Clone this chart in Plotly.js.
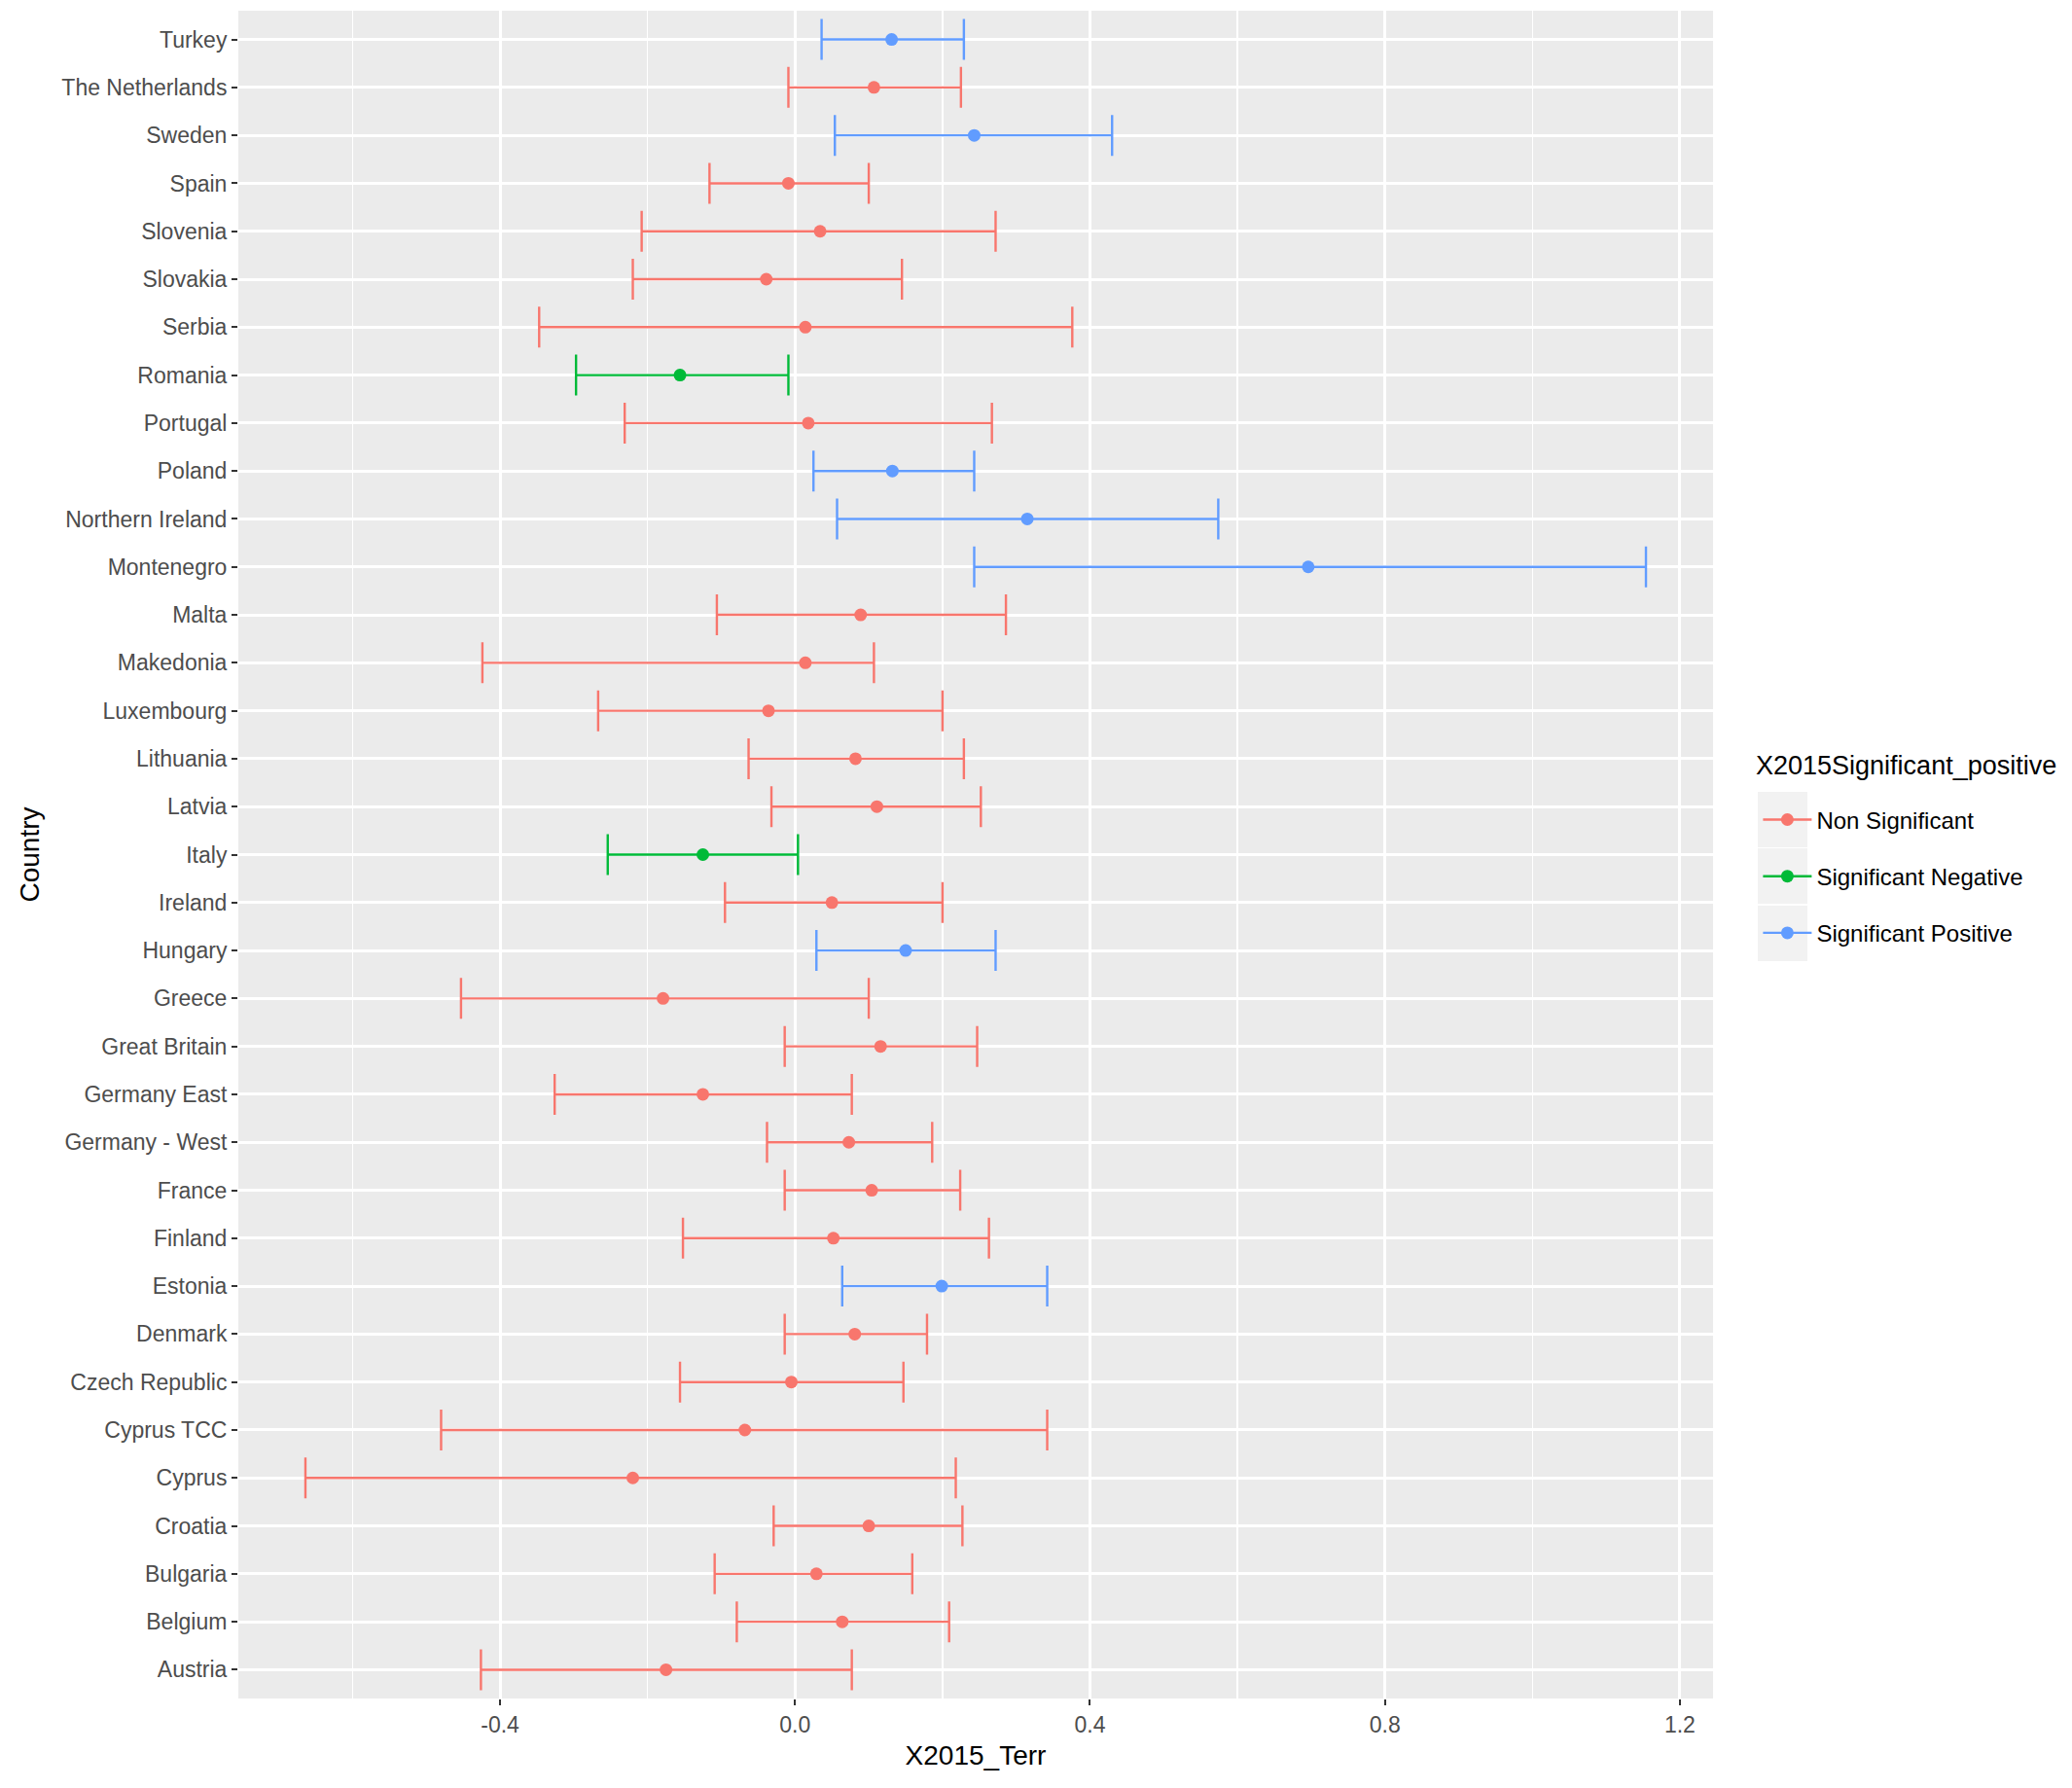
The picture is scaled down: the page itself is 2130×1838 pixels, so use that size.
<!DOCTYPE html>
<html>
<head>
<meta charset="utf-8">
<script src="https://cdn.plot.ly/plotly-3.0.1.min.js"></script>
<style>
  html, body { margin: 0; padding: 0; background: #fff; }
  #chart { width: 2130px; height: 1838px; }
</style>
</head>
<body>
<div id="chart"></div>
<script>
// bottom to top, as the y axis reads
const countries = ['Austria', 'Belgium', 'Bulgaria', 'Croatia', 'Cyprus', 'Cyprus TCC',
  'Czech Republic', 'Denmark', 'Estonia', 'Finland', 'France', 'Germany - West',
  'Germany East', 'Great Britain', 'Greece', 'Hungary', 'Ireland', 'Italy', 'Latvia',
  'Lithuania', 'Luxembourg', 'Makedonia', 'Malta', 'Montenegro', 'Northern Ireland',
  'Poland', 'Portugal', 'Romania', 'Serbia', 'Slovakia', 'Slovenia', 'Spain', 'Sweden',
  'The Netherlands', 'Turkey']

const estimate = [-0.175, 0.064, 0.029, 0.100, -0.220, -0.068, -0.005, 0.081, 0.199, 0.052,
  0.104, 0.073, -0.125, 0.116, -0.179, 0.150, 0.050, -0.125, 0.111, 0.082, -0.036, 0.014,
  0.089, 0.696, 0.315, 0.132, 0.018, -0.156, 0.014, -0.039, 0.034, -0.009, 0.243, 0.107, 0.131]

const lower = [-0.426, -0.079, -0.109, -0.029, -0.664, -0.480, -0.156, -0.014, 0.064, -0.152,
  -0.014, -0.038, -0.326, -0.014, -0.453, 0.029, -0.095, -0.254, -0.032, -0.063, -0.267, -0.424,
  -0.106, 0.243, 0.057, 0.025, -0.231, -0.297, -0.347, -0.220, -0.208, -0.116, 0.054, -0.009, 0.036]

const upper = [0.077, 0.209, 0.159, 0.227, 0.218, 0.342, 0.147, 0.179, 0.342, 0.263,
  0.224, 0.186, 0.077, 0.247, 0.100, 0.272, 0.200, 0.004, 0.252, 0.229, 0.200, 0.107,
  0.286, 1.154, 0.574, 0.243, 0.267, -0.009, 0.376, 0.145, 0.272, 0.100, 0.430, 0.225, 0.229]

const NS = 'Non Significant', NEG = 'Significant Negative', POS = 'Significant Positive'
const significance = [NS, NS, NS, NS, NS, NS, NS, NS, POS, NS, NS, NS, NS, NS, NS, POS, NS, NEG,
  NS, NS, NS, NS, NS, POS, POS, POS, NS, NEG, NS, NS, NS, NS, POS, NS, POS]

const groups = [NS, NEG, POS]
const groupColors = { [NS]: '#F8766D', [NEG]: '#00BA38', [POS]: '#619CFF' }

const xTicks = [-0.4, 0.0, 0.4, 0.8, 1.2]
const xTickText = ['-0.4', '0.0', '0.4', '0.8', '1.2']
const xMinor = [-0.6, -0.2, 0.2, 0.6, 1.0]

const legendTitle = 'X2015Significant_positive'

const traces = []
groups.forEach((g, gi) => {
  let idx = significance.map((s, i) => s === g ? i : -1).filter(i => i >= 0)
  traces.push({
    type: 'scatter',
    mode: 'markers',
    name: g,
    showlegend: false,
    x: idx.map(i => estimate[i]),
    y: idx.map(i => countries[i]),
    marker: { color: groupColors[g], size: 13 },
    error_x: {
      type: 'data',
      symmetric: false,
      array: idx.map(i => upper[i] - estimate[i]),
      arrayminus: idx.map(i => estimate[i] - lower[i]),
      color: groupColors[g],
      thickness: 2.4,
      width: 21
    },
    hoverinfo: 'x+y'
  })
  // legend key only
  traces.push({
    type: 'scatter',
    mode: 'lines+markers',
    name: g,
    legendgroup: 'g' + gi,
    x: [null],
    y: [null],
    line: { color: groupColors[g], width: 2.4 },
    marker: { color: groupColors[g], size: 13 }
  })
})

const font = 'Liberation Sans, Arial, sans-serif'

// grey key boxes behind the legend symbols (paper coords)
const keyBoxes = [[0.5372, 0.5043], [0.5037, 0.4709], [0.4697, 0.4369]]
const shapes = keyBoxes.map(b => ({
  type: 'rect', xref: 'paper', yref: 'paper',
  x0: 1.0303, x1: 1.064, y0: b[1], y1: b[0],
  fillcolor: '#F2F2F2', line: { width: 0 }, layer: 'below'
}))

const layout = {
  width: 2130,
  height: 1838,
  margin: { l: 245, r: 369, t: 11, b: 92 },
  paper_bgcolor: '#FFFFFF',
  plot_bgcolor: '#EBEBEB',
  font: { family: font, size: 23, color: '#4D4D4D' },
  xaxis: {
    range: [-0.755, 1.245],
    tickmode: 'array',
    tickvals: xTicks,
    ticktext: xTickText,
    showgrid: true,
    gridcolor: '#FFFFFF',
    gridwidth: 3,
    zeroline: false,
    showline: false,
    ticks: 'outside',
    ticklen: 6,
    tickwidth: 2,
    tickcolor: '#333333',
    tickfont: { family: font, size: 23, color: '#4D4D4D' },
    minor: { tickmode: 'array', tickvals: xMinor, showgrid: true, gridcolor: '#FFFFFF', gridwidth: 1.5, ticks: '' },
    title: { text: 'X2015_Terr', font: { family: font, size: 28, color: '#000000' }, standoff: 9 }
  },
  yaxis: {
    type: 'category',
    categoryorder: 'array',
    categoryarray: countries,
    range: [-0.6, countries.length - 0.4],
    showgrid: true,
    gridcolor: '#FFFFFF',
    gridwidth: 3,
    zeroline: false,
    showline: false,
    ticks: 'outside',
    ticklen: 6,
    tickwidth: 2,
    tickcolor: '#333333',
    tickfont: { family: font, size: 23, color: '#4D4D4D' },
    title: { text: 'Country', font: { family: font, size: 28, color: '#000000' }, standoff: 14 }
  },
  legend: {
    x: 1.0306,
    xanchor: 'left',
    y: 0.5335,
    yanchor: 'top',
    bgcolor: 'rgba(0,0,0,0)',
    tracegroupgap: 24,
    itemwidth: 50,
    font: { family: font, size: 24, color: '#000000' }
  },
  annotations: [{
    xref: 'paper', yref: 'paper',
    x: 1.028, y: 0.5527,
    xanchor: 'left', yanchor: 'middle',
    showarrow: false,
    text: legendTitle,
    font: { family: font, size: 27, color: '#000000' }
  }],
  shapes: shapes,
  showlegend: true
}

Plotly.newPlot('chart', traces, layout, { displayModeBar: false, staticPlot: true })
</script>
</body>
</html>
